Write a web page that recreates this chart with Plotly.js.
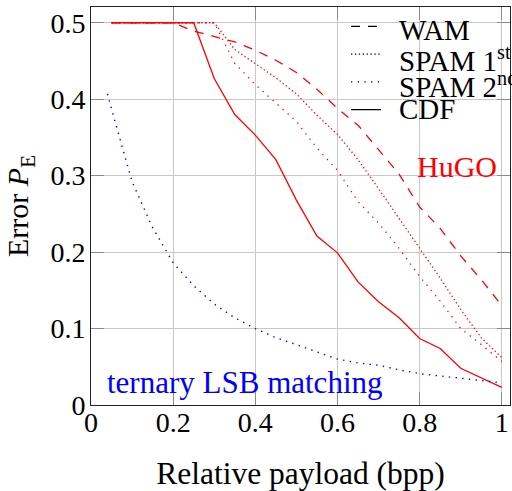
<!DOCTYPE html>
<html><head><meta charset="utf-8">
<script src="https://cdn.plot.ly/plotly-3.0.1.min.js"></script>
<style>html,body{margin:0;padding:0;background:#fff;} #chart{width:512px;height:491px;}</style>
</head><body><div id="chart"></div>
<script>
// Relative payload (bpp)
const payload = [0.05,0.10,0.15,0.20,0.25,0.30,0.35,0.40,0.45,0.50,0.55,0.60,0.65,0.70,0.75,0.80,0.85,0.90,0.95,1.00];
// HuGO detection error for each steganalysis method
const hugoWAM   = [0.5,0.5,0.5,0.5,0.489,0.482,0.475,0.464,0.451,0.435,0.413,0.388,0.366,0.334,0.302,0.259,0.231,0.195,0.164,0.130];
const hugoSPAM1 = [0.5,0.5,0.5,0.5,0.5,0.5,0.465,0.446,0.428,0.407,0.379,0.354,0.321,0.283,0.244,0.204,0.166,0.125,0.088,0.062];
const hugoSPAM2 = [0.5,0.5,0.5,0.5,0.5,0.5,0.447,0.419,0.395,0.371,0.336,0.307,0.266,0.238,0.205,0.168,0.136,0.100,0.079,0.057];
const hugoCDF   = [0.5,0.5,0.5,0.5,0.5,0.427,0.380,0.353,0.321,0.268,0.221,0.199,0.161,0.135,0.114,0.087,0.074,0.048,0.035,0.023];
// ternary LSB matching
const lsbPayload = [0.04,0.05,0.10,0.15,0.20,0.25,0.30,0.35,0.40,0.45,0.50,0.55,0.60,0.65,0.70,0.75,0.80,0.85,0.90,0.95,1.00];
const lsbError   = [0.407,0.387,0.292,0.232,0.186,0.156,0.132,0.114,0.100,0.088,0.079,0.069,0.060,0.055,0.052,0.046,0.041,0.038,0.035,0.032,0.029];
// legend / tick labels
const legendNames = ['WAM','SPAM 1<sup>st</sup>','SPAM 2<sup>nd</sup>','CDF'];
const xTicks = [0,0.2,0.4,0.6,0.8,1];
const yTicks = [0,0.1,0.2,0.3,0.4,0.5];

const FONT = "'Liberation Serif', 'Times New Roman', serif";
const dashes = ['9px,8px','1.3px,2.6px','1.3px,5.4px','solid'];
const hugoSeries = [hugoWAM, hugoSPAM1, hugoSPAM2, hugoCDF];

const traces = [];
hugoSeries.forEach((ys, i) => {
  traces.push({x: payload, y: ys, mode: 'lines', showlegend: false, hoverinfo: 'skip',
    line: {color: '#ff0000', width: 1.3, dash: dashes[i]}});
});
traces.push({x: lsbPayload, y: lsbError, mode: 'lines', showlegend: false, hoverinfo: 'skip',
  line: {color: '#0000ff', width: 1.4, dash: '1.4px,5.3px'}});
// legend line samples (labels are placed next to them as text below)
legendNames.forEach((n, i) => {
  traces.push({x: [null], y: [null], mode: 'lines', name: '\u00a0',
    line: {color: '#000', width: 1.3, dash: dashes[i]}});
});

const axisCommon = {
  ticks: 'inside', ticklen: 13, tickcolor: '#8a8a8a', tickwidth: 1,
  showgrid: true, gridcolor: '#c8c8c8', gridwidth: 1,
  showline: true, linecolor: '#222', linewidth: 1, mirror: 'ticks',
  zeroline: false, automargin: false,
  tickfont: {family: FONT, size: 28, color: '#000'}
};

// legend row centres in paper coordinates and label column
const legendRowsY = [0.941, 0.869, 0.8048, 0.7437];
const legendTextX = 0.730;

const annotations = [
  {text: 'HuGO', xref: 'x', yref: 'y', x: 0.993, y: 0.312, xanchor: 'right', yanchor: 'middle',
    showarrow: false, font: {family: FONT, size: 30, color: '#ff0000'}},
  {text: 'ternary LSB matching', xref: 'x', yref: 'y', x: 0.033, y: 0.030, xanchor: 'left', yanchor: 'middle',
    showarrow: false, font: {family: FONT, size: 31, color: '#0000ff'}}
];
legendNames.forEach((n, i) => {
  annotations.push({text: n, xref: 'paper', yref: 'paper', x: legendTextX, y: legendRowsY[i],
    xanchor: 'left', yanchor: 'middle', showarrow: false, font: {family: FONT, size: 29, color: '#000'}});
});

const layout = {
  width: 512, height: 491,
  margin: {l: 91, r: 2, t: 7, b: 86, pad: 0, autoexpand: false},
  paper_bgcolor: '#fff', plot_bgcolor: '#fff',
  font: {family: FONT, color: '#000'},
  xaxis: Object.assign({}, axisCommon, {range: [0, 1.02], tickvals: xTicks, ticklabelstandoff: -8,
    title: {text: 'Relative payload (bpp)', font: {family: FONT, size: 31.5}, standoff: 28}}),
  yaxis: Object.assign({}, axisCommon, {range: [0, 0.5206], tickvals: yTicks, ticklabelstandoff: -1,
    title: {text: 'Error <i>P</i><sub>E</sub>', font: {family: FONT, size: 30}, standoff: 12}}),
  showlegend: true,
  legend: {x: 0.6086, xanchor: 'left', y: 0.9985, yanchor: 'top', bgcolor: 'rgba(0,0,0,0)',
    borderwidth: 0, font: {family: FONT, size: 19, color: '#000'}, tracegroupgap: 0},
  shapes: [{type: 'rect', xref: 'paper', yref: 'paper', x0: 0.601, x1: 0.998, y0: 0.729, y1: 0.98,
    fillcolor: '#fff', line: {width: 0}, layer: 'between'}],
  annotations: annotations
};

Plotly.newPlot('chart', traces, layout, {displayModeBar: false, staticPlot: true});
</script>
</body></html>
